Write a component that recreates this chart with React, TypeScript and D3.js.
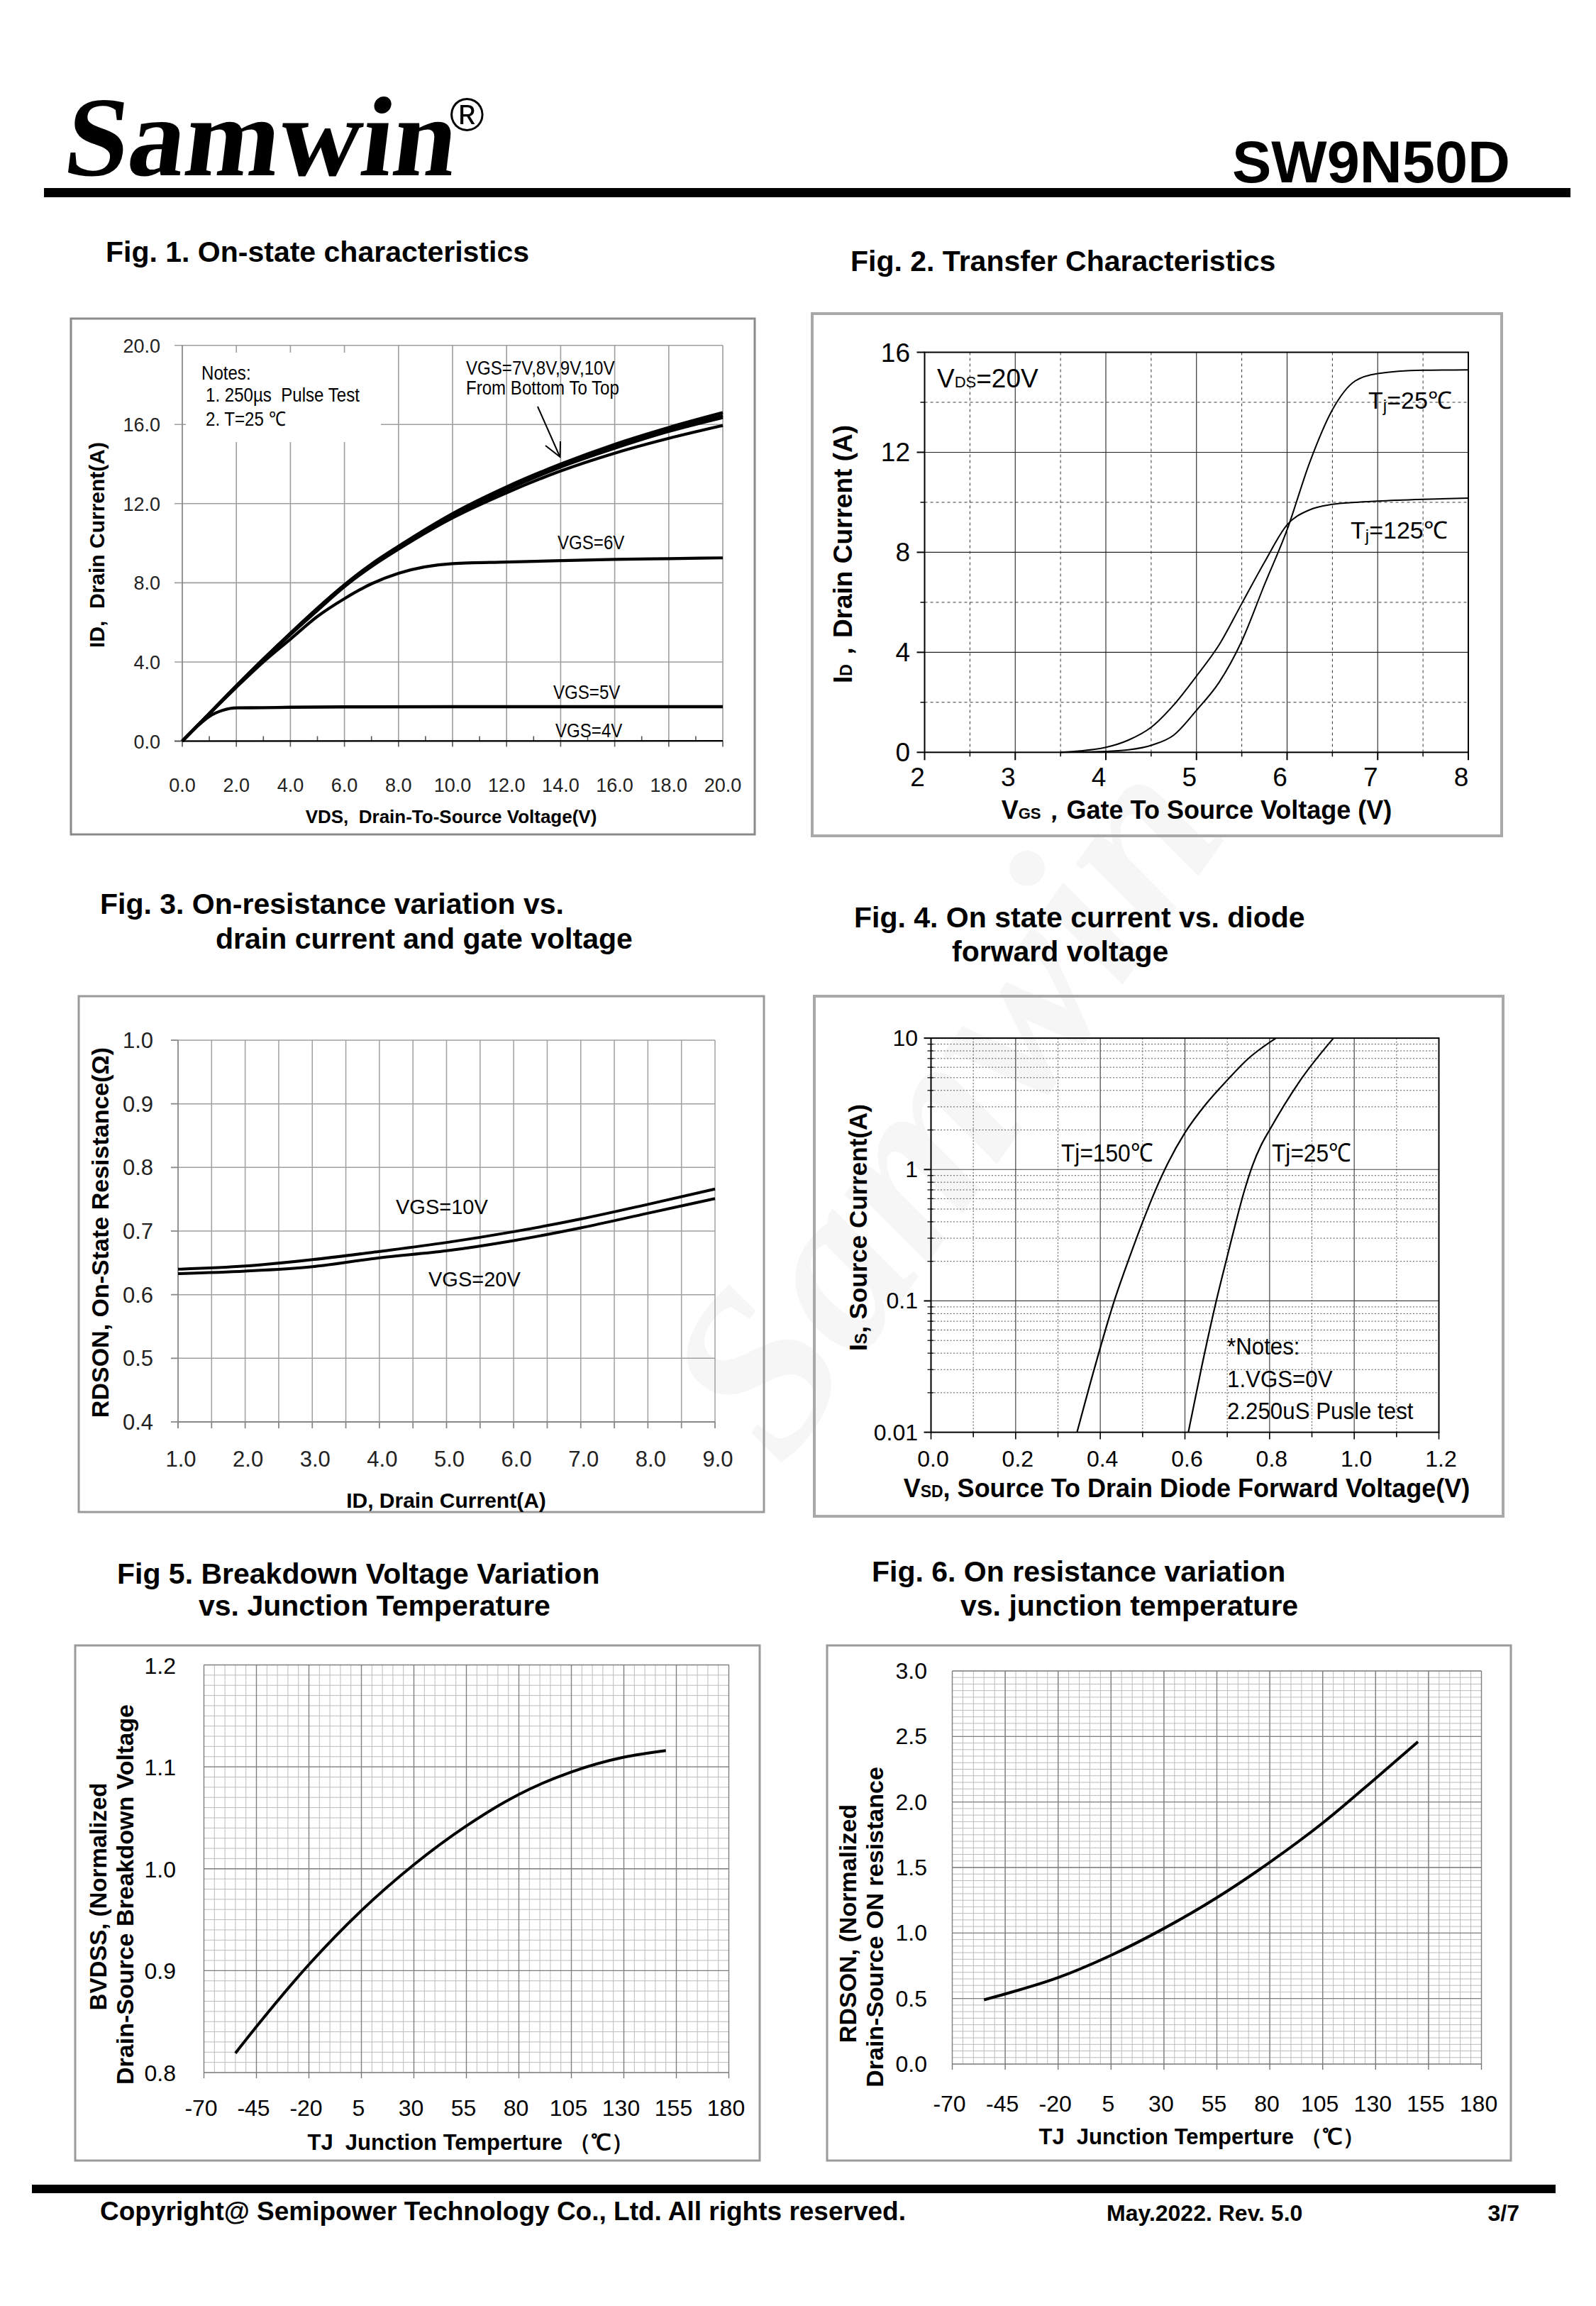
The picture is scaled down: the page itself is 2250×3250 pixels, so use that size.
import React from 'react';
import * as d3 from 'd3';

const SANS = "'Liberation Sans', Arial, Helvetica, sans-serif";
const SERIF = "'Liberation Serif', 'Times New Roman', serif";
const DEG = '\u2103';

// ---------------- data ----------------
// Fig 1: On-state characteristics
const fig1Vds = [0, 1, 2, 3, 4, 5, 6, 7, 8, 10, 12, 14, 16, 18, 20];
const fig1Vgs10 = [0, 1.4, 2.8, 4.15, 5.45, 6.72, 7.9, 8.95, 9.85, 11.5, 12.85, 14.0, 15.0, 15.85, 16.6];
const fig1Vgs9 = [0, 1.4, 2.8, 4.15, 5.45, 6.7, 7.88, 8.92, 9.82, 11.45, 12.78, 13.93, 14.9, 15.75, 16.45];
const fig1Vgs8 = [0, 1.4, 2.78, 4.12, 5.42, 6.66, 7.85, 8.88, 9.78, 11.4, 12.7, 13.85, 14.8, 15.65, 16.35];
const fig1Vgs7 = [0, 1.38, 2.75, 4.08, 5.38, 6.6, 7.8, 8.82, 9.7, 11.28, 12.55, 13.65, 14.55, 15.3, 15.95];
const fig1Vgs6 = [0, 1.38, 2.72, 4.0, 5.15, 6.3, 7.2, 7.95, 8.48, 8.97, 9.05, 9.12, 9.18, 9.22, 9.26];
const fig1Vds5 = [0, 0.5, 1, 1.5, 2, 3, 4, 6, 10, 20];
const fig1Vgs5 = [0, 0.68, 1.25, 1.56, 1.68, 1.69, 1.71, 1.73, 1.74, 1.74];
const fig1Vds4 = [0, 20];
const fig1Vgs4 = [0, 0.02];
const fig1XTicks = [0, 2, 4, 6, 8, 10, 12, 14, 16, 18, 20];
const fig1YTicks = [0, 4, 8, 12, 16, 20];

// Fig 2: Transfer characteristics
const fig2Vgs = [3.5, 4.0, 4.25, 4.5, 4.75, 5.0, 5.25, 5.5, 5.75, 6.0, 6.25, 6.5, 6.75, 7.0, 7.5, 8.0];
const fig2Tj25 = [0, 0.04, 0.1, 0.28, 0.69, 1.68, 2.8, 4.45, 6.7, 8.9, 11.6, 13.7, 14.85, 15.15, 15.28, 15.3];
const fig2Tj125 = [0, 0.2, 0.49, 1.0, 1.9, 3.05, 4.3, 5.95, 7.6, 9.1, 9.7, 9.92, 10.0, 10.05, 10.12, 10.17];
const fig2XTicks = [2, 3, 4, 5, 6, 7, 8];
const fig2YTicks = [0, 4, 8, 12, 16];

// Fig 3: On-resistance vs drain current
const fig3Id = [1, 2, 3, 4, 5, 6, 7, 8, 9];
const fig3Vgs10 = [0.64, 0.645, 0.655, 0.668, 0.682, 0.699, 0.719, 0.742, 0.766];
const fig3Vgs20 = [0.633, 0.637, 0.644, 0.658, 0.669, 0.685, 0.705, 0.728, 0.751];
const fig3XTicks = [1, 2, 3, 4, 5, 6, 7, 8, 9];
const fig3YTicks = [0.4, 0.5, 0.6, 0.7, 0.8, 0.9, 1.0];

// Fig 4: Diode forward voltage
const fig4V150 = [0.345, 0.39, 0.433, 0.47, 0.5, 0.53, 0.56, 0.6, 0.65, 0.7, 0.75, 0.815];
const fig4I150 = [0.01, 0.0339, 0.1, 0.219, 0.398, 0.692, 1.122, 1.905, 3.16, 4.79, 7.0, 10];
const fig4V25 = [0.608, 0.64, 0.674, 0.7, 0.72, 0.74, 0.76, 0.78, 0.8, 0.876, 0.951];
const fig4I25 = [0.01, 0.032, 0.1, 0.218, 0.393, 0.682, 1.08, 1.53, 2.0, 4.95, 10];
const fig4XTicks = [0, 0.2, 0.4, 0.6, 0.8, 1.0, 1.2];
const fig4YTicks = [0.01, 0.1, 1, 10];
const fig4YLabels = ['0.01', '0.1', '1', '10'];

// Fig 5: Breakdown voltage vs Tj
const fig5T = [-55, -45, -20, 5, 30, 55, 80, 105, 130, 150];
const fig5Bv = [0.819, 0.845, 0.906, 0.959, 1.004, 1.042, 1.073, 1.095, 1.1095, 1.116];
const fig5YTicks = [0.8, 0.9, 1.0, 1.1, 1.2];

// Fig 6: On resistance vs Tj
const fig6T = [-55, -45, -20, 5, 30, 55, 80, 105, 130, 150];
const fig6R = [0.49, 0.535, 0.66, 0.83, 1.035, 1.27, 1.54, 1.84, 2.18, 2.46];
const fig6YTicks = [0, 0.5, 1.0, 1.5, 2.0, 2.5, 3.0];

const tjXTicks = [-70, -45, -20, 5, 30, 55, 80, 105, 130, 155, 180];

// ---------------- helpers ----------------
type Sc = (v: number) => number;
function pathOf(xs: number[], ys: number[], sx: Sc, sy: Sc, curve: any = d3.curveMonotoneX) {
  const pts = xs.map((v, i) => [v, ys[i]] as [number, number]);
  return (
    d3
      .line<[number, number]>()
      .x((d) => sx(d[0]))
      .y((d) => sy(d[1]))
      .curve(curve)(pts) || ''
  );
}

function NText(props: { x: number; y: number; size: number; sx?: number; children: any; weight?: string }) {
  const { x, y, size, sx = 0.86, children, weight = 'normal' } = props;
  return (
    <text
      transform={`translate(${x},${y}) scale(${sx},1)`}
      fontSize={size}
      fontFamily={SANS}
      fontWeight={weight}
      style={{ whiteSpace: 'pre' }}
    >
      {children}
    </text>
  );
}

function Title(props: { x: number; y: number; children: any }) {
  return (
    <text x={props.x} y={props.y} fontSize={41} fontWeight="bold" fontFamily={SANS} style={{ whiteSpace: 'pre' }}>
      {props.children}
    </text>
  );
}

// ---------------- figures ----------------
function Fig1() {
  const x = d3.scaleLinear().domain([0, 20]).range([257, 1019]);
  const y = d3.scaleLinear().domain([0, 20]).range([1044.5, 486.7]);
  const grid = '#9e9e9e';
  const bundle = [fig1Vgs7, fig1Vgs8, fig1Vgs9, fig1Vgs10, fig1Vgs6];
  const minorX = d3.range(1, 20, 2);
  return (
    <g>
      <rect x={100} y={449} width={964} height={727} fill="none" stroke="#8a8a8a" strokeWidth={3} />
      {fig1XTicks.filter((v) => v > 0).map((v) => (
        <line key={'gx' + v} x1={x(v)} x2={x(v)} y1={y(20)} y2={y(0)} stroke={grid} strokeWidth={1.6} />
      ))}
      {fig1YTicks.filter((v) => v > 0).map((v) => (
        <line key={'gy' + v} x1={x(0) - 11} x2={x(20)} y1={y(v)} y2={y(v)} stroke={grid} strokeWidth={1.6} />
      ))}
      <line x1={x(0)} x2={x(0)} y1={y(20)} y2={y(0)} stroke="#8a8a8a" strokeWidth={1.8} />
      <line x1={x(0) - 11} x2={x(20)} y1={y(0)} y2={y(0)} stroke="#555" strokeWidth={2} />
      {fig1XTicks.map((v) => (
        <line key={'tx' + v} x1={x(v)} x2={x(v)} y1={y(0)} y2={y(0) + 8} stroke="#555" strokeWidth={1.6} />
      ))}
      {minorX.map((v) => (
        <line key={'mx' + v} x1={x(v)} x2={x(v)} y1={y(0)} y2={y(0) - 7} stroke="#555" strokeWidth={1.6} />
      ))}
      <rect x={262} y={497} width={275} height={126} fill="#fff" />
      {fig1YTicks.map((v) => (
        <text key={'ly' + v} x={226} y={y(v) + 10} fontSize={27} textAnchor="end" fontFamily={SANS} fill="#222">
          {v.toFixed(1)}
        </text>
      ))}
      {fig1XTicks.map((v) => (
        <text key={'lx' + v} x={x(v)} y={1116} fontSize={27} textAnchor="middle" fontFamily={SANS} fill="#222">
          {v.toFixed(1)}
        </text>
      ))}
      <text x={636} y={1160} fontSize={26} fontWeight="bold" textAnchor="middle" fontFamily={SANS} style={{ whiteSpace: 'pre' }}>
        VDS,  Drain-To-Source Voltage(V)
      </text>
      <text transform="translate(147,768) rotate(-90)" fontSize={30} fontWeight="bold" textAnchor="middle" fontFamily={SANS} style={{ whiteSpace: 'pre' }}>
        ID,  Drain Current(A)
      </text>
      {bundle.map((s, i) => (
        <path key={'c' + i} d={pathOf(fig1Vds, s, x, y)} fill="none" stroke="#000" strokeWidth={4.2} />
      ))}
      <path d={pathOf(fig1Vds5, fig1Vgs5, x, y)} fill="none" stroke="#000" strokeWidth={4.4} />
      <path d={pathOf(fig1Vds4, fig1Vgs4, x, y, d3.curveLinear)} fill="none" stroke="#000" strokeWidth={2} />
      <NText x={284} y={535} size={28}>Notes:</NText>
      <NText x={290} y={566} size={28}>1. 250µs  Pulse Test</NText>
      <NText x={290} y={600} size={28}>{'2. T=25 ' + DEG}</NText>
      <NText x={657} y={528} size={28}>VGS=7V,8V,9V,10V</NText>
      <NText x={657} y={556} size={28}>From Bottom To Top</NText>
      <line x1={758} y1={573} x2={789} y2={643} stroke="#000" strokeWidth={2} />
      <polyline points="769,628 789.5,644 790,622" fill="none" stroke="#000" strokeWidth={2} />
      <NText x={786} y={774} size={28}>VGS=6V</NText>
      <NText x={780} y={985} size={28}>VGS=5V</NText>
      <NText x={783} y={1039} size={28}>VGS=4V</NText>
    </g>
  );
}

function Fig2() {
  const x = d3.scaleLinear().domain([2, 8]).range([1303.5, 2070]);
  const y = d3.scaleLinear().domain([0, 16]).range([1060.3, 496.5]);
  const halfX = d3.range(2.5, 8, 1);
  const halfY = [2, 6, 10, 14];
  return (
    <g>
      <rect x={1145} y={442} width={972} height={736} fill="none" stroke="#a8a8a8" strokeWidth={4} />
      {halfX.map((v) => (
        <line key={'hx' + v} x1={x(v)} x2={x(v)} y1={y(16)} y2={y(0)} stroke="#333" strokeWidth={1} strokeDasharray="4,4" />
      ))}
      {halfY.map((v) => (
        <line key={'hy' + v} x1={x(2)} x2={x(8)} y1={y(v)} y2={y(v)} stroke="#333" strokeWidth={1} strokeDasharray="4,4" />
      ))}
      {fig2XTicks.slice(1, -1).map((v) => (
        <line key={'gx' + v} x1={x(v)} x2={x(v)} y1={y(16)} y2={y(0)} stroke="#222" strokeWidth={1.1} />
      ))}
      {fig2YTicks.slice(1, -1).map((v) => (
        <line key={'gy' + v} x1={x(2)} x2={x(8)} y1={y(v)} y2={y(v)} stroke="#222" strokeWidth={1.1} />
      ))}
      <rect x={x(2)} y={y(16)} width={x(8) - x(2)} height={y(0) - y(16)} fill="none" stroke="#000" strokeWidth={2} />
      {fig2YTicks.map((v) => (
        <line key={'ty' + v} x1={x(2) - 11} x2={x(2)} y1={y(v)} y2={y(v)} stroke="#000" strokeWidth={2} />
      ))}
      {halfY.map((v) => (
        <line key={'my' + v} x1={x(2) - 6} x2={x(2)} y1={y(v)} y2={y(v)} stroke="#000" strokeWidth={1.5} />
      ))}
      {fig2XTicks.map((v) => (
        <line key={'tx' + v} x1={x(v)} x2={x(v)} y1={y(0)} y2={y(0) + 11} stroke="#000" strokeWidth={2} />
      ))}
      {halfX.map((v) => (
        <line key={'mx' + v} x1={x(v)} x2={x(v)} y1={y(0)} y2={y(0) + 6} stroke="#000" strokeWidth={1.5} />
      ))}
      {fig2YTicks.map((v) => (
        <text key={'ly' + v} x={1283} y={y(v) + 13} fontSize={37} textAnchor="end" fontFamily={SANS}>
          {v}
        </text>
      ))}
      {fig2XTicks.map((v) => (
        <text key={'lx' + v} x={x(v) - 10} y={1108} fontSize={37} textAnchor="middle" fontFamily={SANS}>
          {v}
        </text>
      ))}
      <text x={1687} y={1154} fontSize={36} fontWeight="bold" textAnchor="middle" fontFamily={SANS} style={{ whiteSpace: 'pre' }}>
        V<tspan fontSize={22}>GS</tspan>，Gate To Source Voltage (V)
      </text>
      <text transform="translate(1201,781) rotate(-90)" fontSize={37} fontWeight="bold" textAnchor="middle" fontFamily={SANS} style={{ whiteSpace: 'pre' }}>
        I<tspan fontSize={23}>D</tspan>，Drain Current (A)
      </text>
      <text x={1321} y={546} fontSize={37} fontFamily={SANS}>
        V<tspan fontSize={22}>DS</tspan>=20V
      </text>
      <path d={pathOf(fig2Vgs, fig2Tj25, x, y)} fill="none" stroke="#000" strokeWidth={2} />
      <path d={pathOf(fig2Vgs, fig2Tj125, x, y)} fill="none" stroke="#000" strokeWidth={2} />
      <text x={1929} y={576} fontSize={34} fontFamily={SANS}>
        T<tspan fontSize={24} dy={4}>j</tspan>
        <tspan dy={-4}>{'=25' + DEG}</tspan>
      </text>
      <text x={1904} y={759} fontSize={34} fontFamily={SANS}>
        T<tspan fontSize={24} dy={4}>j</tspan>
        <tspan dy={-4}>{'=125' + DEG}</tspan>
      </text>
    </g>
  );
}

function Fig3() {
  const x = d3.scaleLinear().domain([1, 9]).range([251, 1008]);
  const y = d3.scaleLinear().domain([0.4, 1.0]).range([2004, 1466]);
  const gx = d3.range(1.5, 9.01, 0.5);
  const gy = fig3YTicks.slice(1);
  const grid = '#a0a0a0';
  return (
    <g>
      <rect x={111} y={1404} width={966} height={727} fill="none" stroke="#9a9a9a" strokeWidth={3} />
      {gx.map((v) => (
        <line key={'gx' + v} x1={x(v)} x2={x(v)} y1={y(1)} y2={y(0.4)} stroke={grid} strokeWidth={1.5} />
      ))}
      {gy.map((v) => (
        <line key={'gy' + v} x1={x(1)} x2={x(9)} y1={y(v)} y2={y(v)} stroke={grid} strokeWidth={1.5} />
      ))}
      <line x1={x(1)} x2={x(1)} y1={y(1)} y2={y(0.4) + 9} stroke="#888" strokeWidth={1.8} />
      <line x1={x(1)} x2={x(9)} y1={y(0.4)} y2={y(0.4)} stroke="#888" strokeWidth={1.8} />
      {fig3YTicks.map((v) => (
        <line key={'ty' + v} x1={x(1) - 10} x2={x(1)} y1={y(v)} y2={y(v)} stroke="#888" strokeWidth={1.8} />
      ))}
      {d3.range(1, 9.01, 0.5).map((v) => (
        <line key={'tx' + v} x1={x(v)} x2={x(v)} y1={y(0.4)} y2={y(0.4) + 9} stroke="#888" strokeWidth={1.8} />
      ))}
      {fig3YTicks.map((v) => (
        <text key={'ly' + v} x={216} y={y(v) + 11} fontSize={31} textAnchor="end" fontFamily={SANS} fill="#222">
          {v.toFixed(1)}
        </text>
      ))}
      {fig3XTicks.map((v) => (
        <text key={'lx' + v} x={x(v) + 4} y={2067} fontSize={31} textAnchor="middle" fontFamily={SANS} fill="#222">
          {v.toFixed(1)}
        </text>
      ))}
      <text x={629} y={2125} fontSize={30} fontWeight="bold" textAnchor="middle" fontFamily={SANS}>
        ID, Drain Current(A)
      </text>
      <text transform="translate(153,1737) rotate(-90)" fontSize={34} fontWeight="bold" textAnchor="middle" fontFamily={SANS}>
        RDSON, On-State Resistance(Ω)
      </text>
      <path d={pathOf(fig3Id, fig3Vgs10, x, y)} fill="none" stroke="#000" strokeWidth={4} />
      <path d={pathOf(fig3Id, fig3Vgs20, x, y)} fill="none" stroke="#000" strokeWidth={4} />
      <text x={558} y={1711} fontSize={29} fontFamily={SANS}>VGS=10V</text>
      <text x={604} y={1813} fontSize={29} fontFamily={SANS}>VGS=20V</text>
    </g>
  );
}

function Fig4() {
  const x = d3.scaleLinear().domain([0, 1.2]).range([1312.5, 2028.5]);
  const y = d3.scaleLog().domain([0.01, 10]).range([2018.6, 1463.1]);
  const minorY: number[] = [];
  [0.01, 0.1, 1].forEach((d) => d3.range(2, 10).forEach((k) => minorY.push(d * k)));
  const minorX = [0.1, 0.3, 0.5, 0.7, 0.9, 1.1];
  const allX = d3.range(0, 1.21, 0.1);
  return (
    <g>
      <rect x={1148} y={1404} width={971} height={733} fill="none" stroke="#a8a8a8" strokeWidth={4} />
      {minorY.map((v, i) => (
        <line key={'my' + i} x1={x(0)} x2={x(1.2)} y1={y(v)} y2={y(v)} stroke="#555" strokeWidth={1} strokeDasharray="2,2.5" />
      ))}
      {minorX.map((v) => (
        <line key={'mx' + v} x1={x(v)} x2={x(v)} y1={y(10)} y2={y(0.01)} stroke="#555" strokeWidth={1} strokeDasharray="2,2.5" />
      ))}
      {fig4XTicks.slice(1, -1).map((v) => (
        <line key={'gx' + v} x1={x(v)} x2={x(v)} y1={y(10)} y2={y(0.01)} stroke="#444" strokeWidth={1.2} />
      ))}
      {[0.1, 1].map((v) => (
        <line key={'gy' + v} x1={x(0)} x2={x(1.2)} y1={y(v)} y2={y(v)} stroke="#444" strokeWidth={1.2} />
      ))}
      <rect x={x(0)} y={y(10)} width={x(1.2) - x(0)} height={y(0.01) - y(10)} fill="none" stroke="#000" strokeWidth={2} />
      {fig4YTicks.map((v) => (
        <line key={'ty' + v} x1={x(0) - 10} x2={x(0)} y1={y(v)} y2={y(v)} stroke="#000" strokeWidth={2} />
      ))}
      {minorY.map((v, i) => (
        <line key={'ti' + i} x1={x(0) - 5} x2={x(0) + 4} y1={y(v)} y2={y(v)} stroke="#000" strokeWidth={1.2} />
      ))}
      {allX.map((v, i) => (
        <line key={'tx' + i} x1={x(v)} x2={x(v)} y1={y(0.01)} y2={y(0.01) + (i % 2 === 0 ? 10 : 7)} stroke="#000" strokeWidth={1.6} />
      ))}
      {fig4YTicks.map((v, i) => (
        <text key={'ly' + v} x={1294} y={y(v) + 11} fontSize={32} textAnchor="end" fontFamily={SANS}>
          {fig4YLabels[i]}
        </text>
      ))}
      {fig4XTicks.map((v) => (
        <text key={'lx' + v} x={x(v) + 3} y={2067} fontSize={32} textAnchor="middle" fontFamily={SANS}>
          {v.toFixed(1)}
        </text>
      ))}
      <text x={1673} y={2110} fontSize={36} fontWeight="bold" textAnchor="middle" fontFamily={SANS}>
        V<tspan fontSize={23}>SD</tspan>, Source To Drain Diode Forward Voltage(V)
      </text>
      <text transform="translate(1222,1730) rotate(-90)" fontSize={35} fontWeight="bold" textAnchor="middle" fontFamily={SANS}>
        I<tspan fontSize={23}>S</tspan>, Source Current(A)
      </text>
      <path d={pathOf(fig4V150, fig4I150, x, y)} fill="none" stroke="#000" strokeWidth={2.2} />
      <path d={pathOf(fig4V25, fig4I25, x, y)} fill="none" stroke="#000" strokeWidth={2.2} />
      <NText x={1496} y={1637} size={36} sx={0.88}>{'Tj=150' + DEG}</NText>
      <NText x={1793} y={1637} size={36} sx={0.88}>{'Tj=25' + DEG}</NText>
      <NText x={1730} y={1909} size={34} sx={0.92}>*Notes:</NText>
      <NText x={1730} y={1955} size={34} sx={0.92}>1.VGS=0V</NText>
      <NText x={1730} y={2000} size={34} sx={0.92}>2.250uS Pusle test</NText>
    </g>
  );
}

function TjGrid(props: { x: any; y: any; yMinor: number[]; yMajor: number[] }) {
  const { x, y, yMinor, yMajor } = props;
  const [y0, y1] = y.domain();
  const xMinor = d3.range(-70, 180.01, 5);
  return (
    <g>
      {xMinor.map((v) => (
        <line key={'vx' + v} x1={x(v)} x2={x(v)} y1={y(y1)} y2={y(y0)} stroke="#bcbcbc" strokeWidth={1} />
      ))}
      {yMinor.map((v, i) => (
        <line key={'vy' + i} x1={x(-70)} x2={x(180)} y1={y(v)} y2={y(v)} stroke="#bcbcbc" strokeWidth={1} />
      ))}
      {tjXTicks.map((v) => (
        <line key={'Mx' + v} x1={x(v)} x2={x(v)} y1={y(y1)} y2={y(y0)} stroke="#808080" strokeWidth={1.4} />
      ))}
      {yMajor.map((v) => (
        <line key={'My' + v} x1={x(-70)} x2={x(180)} y1={y(v)} y2={y(v)} stroke="#808080" strokeWidth={1.4} />
      ))}
      {tjXTicks.map((v) => (
        <line key={'tx' + v} x1={x(v)} x2={x(v)} y1={y(y0)} y2={y(y0) + 8} stroke="#777" strokeWidth={1.4} />
      ))}
    </g>
  );
}

function Fig5() {
  const x = d3.scaleLinear().domain([-70, 180]).range([287.5, 1027.5]);
  const y = d3.scaleLinear().domain([0.8, 1.2]).range([2921, 2346.5]);
  const yMinor = d3.range(0, 41).map((i) => 0.8 + i * 0.01);
  return (
    <g>
      <rect x={106} y={2319} width={965} height={726} fill="none" stroke="#9a9a9a" strokeWidth={3} />
      <TjGrid x={x} y={y} yMinor={yMinor} yMajor={fig5YTicks} />
      {fig5YTicks.map((v) => (
        <text key={'ly' + v} x={248} y={y(v) + 12} fontSize={32} textAnchor="end" fontFamily={SANS}>
          {v.toFixed(1)}
        </text>
      ))}
      {tjXTicks.map((v) => (
        <text key={'lx' + v} x={x(v) - 4} y={2982} fontSize={32} textAnchor="middle" fontFamily={SANS}>
          {v}
        </text>
      ))}
      <text x={663} y={3030} fontSize={31} fontWeight="bold" textAnchor="middle" fontFamily={SANS} style={{ whiteSpace: 'pre' }}>
        {'TJ  Junction Temperture （' + DEG + '）'}
      </text>
      <text transform="translate(150,2673) rotate(-90)" fontSize={33} fontWeight="bold" textAnchor="middle" fontFamily={SANS}>
        BVDSS, (Normalized
      </text>
      <text transform="translate(188,2670) rotate(-90)" fontSize={34} fontWeight="bold" textAnchor="middle" fontFamily={SANS}>
        Drain-Source Breakdown Voltage
      </text>
      <path d={pathOf(fig5T, fig5Bv, x, y)} fill="none" stroke="#000" strokeWidth={4} />
    </g>
  );
}

function Fig6() {
  const x = d3.scaleLinear().domain([-70, 180]).range([1342.5, 2088.5]);
  const y = d3.scaleLinear().domain([0, 3]).range([2909, 2355]);
  const yMinor = d3.range(0, 61).map((i) => i * 0.05);
  return (
    <g>
      <rect x={1166} y={2319} width={964} height={726} fill="none" stroke="#9a9a9a" strokeWidth={3} />
      <TjGrid x={x} y={y} yMinor={yMinor} yMajor={fig6YTicks} />
      {fig6YTicks.map((v) => (
        <text key={'ly' + v} x={1307} y={y(v) + 11} fontSize={32} textAnchor="end" fontFamily={SANS}>
          {v.toFixed(1)}
        </text>
      ))}
      {tjXTicks.map((v) => (
        <text key={'lx' + v} x={x(v) - 4} y={2976} fontSize={32} textAnchor="middle" fontFamily={SANS}>
          {v}
        </text>
      ))}
      <text x={1694} y={3022} fontSize={31} fontWeight="bold" textAnchor="middle" fontFamily={SANS} style={{ whiteSpace: 'pre' }}>
        {'TJ  Junction Temperture （' + DEG + '）'}
      </text>
      <text transform="translate(1207,2711) rotate(-90)" fontSize={34} fontWeight="bold" textAnchor="middle" fontFamily={SANS}>
        RDSON, (Normalized
      </text>
      <text transform="translate(1245,2716) rotate(-90)" fontSize={34} fontWeight="bold" textAnchor="middle" fontFamily={SANS}>
        Drain-Source ON resistance
      </text>
      <path d={pathOf(fig6T, fig6R, x, y)} fill="none" stroke="#000" strokeWidth={4} />
    </g>
  );
}

export default function App() {
  return (
    <svg
      width={2250}
      height={3250}
      viewBox="0 0 2250 3250"
      style={{ position: 'absolute', left: 0, top: 0, background: '#fff' }}
    >
      <rect x={0} y={0} width={2250} height={3250} fill="#fff" />
      {/* faint watermark */}
      <text
        transform="translate(1420,1620) rotate(-55)"
        fontSize={330}
        fontFamily={SERIF}
        fontWeight="bold"
        fontStyle="italic"
        textAnchor="middle"
        fill="#f6f6f6"
      >
        Samwin
      </text>

      {/* header */}
      <text transform="translate(87,247) skewX(-7)" fontSize={160} fontFamily={SERIF} fontWeight="bold">
        Samwin
      </text>
      <text x={634} y={184} fontSize={66} fontFamily={SANS}>
        ®
      </text>
      <text x={1737} y={257} fontSize={83} fontWeight="bold" fontFamily={SANS}>
        SW9N50D
      </text>
      <rect x={62} y={265} width={2152} height={13} fill="#000" />

      <Title x={149} y={369}>Fig. 1. On-state characteristics</Title>
      <Title x={1199} y={382}>Fig. 2. Transfer Characteristics</Title>
      <Title x={141} y={1288}>Fig. 3. On-resistance variation vs.</Title>
      <Title x={304} y={1337}>drain current and gate voltage</Title>
      <Title x={1204} y={1307}>Fig. 4. On state current vs. diode</Title>
      <Title x={1342} y={1355}>forward voltage</Title>
      <Title x={165} y={2232}>Fig 5. Breakdown Voltage Variation</Title>
      <Title x={280} y={2277}>vs. Junction Temperature</Title>
      <Title x={1229} y={2229}>Fig. 6. On resistance variation</Title>
      <Title x={1354} y={2277}>vs. junction temperature</Title>

      <Fig1 />
      <Fig2 />
      <Fig3 />
      <Fig4 />
      <Fig5 />
      <Fig6 />

      {/* footer */}
      <rect x={45} y={3079} width={2148} height={12} fill="#000" />
      <text x={141} y={3129} fontSize={37} fontWeight="bold" fontFamily={SANS}>
        Copyright@ Semipower Technology Co., Ltd. All rights reserved.
      </text>
      <text x={1560} y={3130} fontSize={32} fontWeight="bold" fontFamily={SANS}>
        May.2022. Rev. 5.0
      </text>
      <text x={2142} y={3130} fontSize={32} fontWeight="bold" fontFamily={SANS} textAnchor="end">
        3/7
      </text>
    </svg>
  );
}
